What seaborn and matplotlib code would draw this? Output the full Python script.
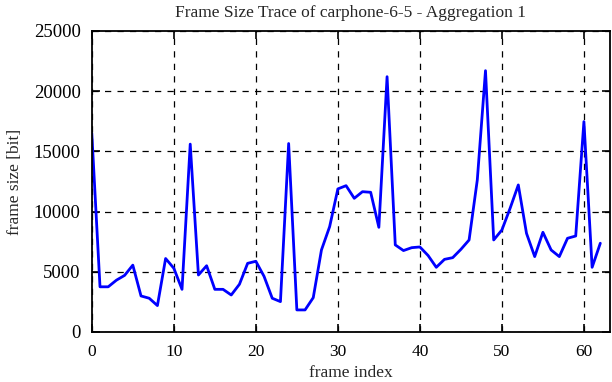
import numpy as np
import pandas as pd
import matplotlib
matplotlib.use("Agg")
import matplotlib.pyplot as plt
import seaborn as sns

# frame sizes (bits per frame)
frame_index = list(range(63))
frame_size = [
    16500, 3750, 3750, 4300, 4700, 5550, 2990, 2800, 2190, 6100,
    5290, 3540, 15600, 4730, 5500, 3540, 3540, 3070, 3960, 5700,
    5870, 4620, 2800, 2520, 15650, 1830, 1830, 2850, 6810, 8750,
    11880, 12150, 11100, 11650, 11600, 8690, 21200, 7230, 6760, 7000,
    7060, 6350, 5370, 6030, 6170, 6860, 7640, 12620, 21700, 7640,
    8470, 10270, 12210, 8190, 6260, 8280, 6810, 6260, 7780, 7970,
    17470, 5370, 7370,
]
x_ticks = [0, 10, 20, 30, 40, 50, 60]
y_ticks = [0, 5000, 10000, 15000, 20000, 25000]

df = pd.DataFrame({"frame index": frame_index, "frame size [bit]": frame_size})

sns.set_style("ticks")
plt.rcParams["font.family"] = ["Liberation Serif", "DejaVu Serif"]

fig = plt.figure(figsize=(6.12, 3.82), dpi=100)
ax = fig.add_axes([0.150, 0.131, 0.847, 0.788])

sns.lineplot(data=df, x="frame index", y="frame size [bit]", color="#0000ff",
             linewidth=2.0, ax=ax)

ax.set_xlim(0, 63.2)
ax.set_ylim(0, 25000)
ax.set_xticks(x_ticks)
ax.set_yticks(y_ticks)
ax.grid(True, color="black", linestyle=(0, (5, 5)), linewidth=0.9)
ax.tick_params(direction="in", top=True, right=True, length=6, width=1.2,
               labelsize=12.5, colors="black")
ax.tick_params(axis="x", pad=9)
ax.tick_params(axis="y", pad=8, labelsize=13.5)
for s in ax.spines.values():
    s.set_linewidth(1.3)
    s.set_color("black")

ax.set_xlabel("frame index", fontsize=12.5, labelpad=3)
ax.set_ylabel("frame size [bit]", fontsize=12.5, labelpad=8)
ax.set_title("Frame Size Trace of carphone-6-5 - Aggregation 1", fontsize=12.5, pad=10)

fig.savefig("out.png", dpi=100)
